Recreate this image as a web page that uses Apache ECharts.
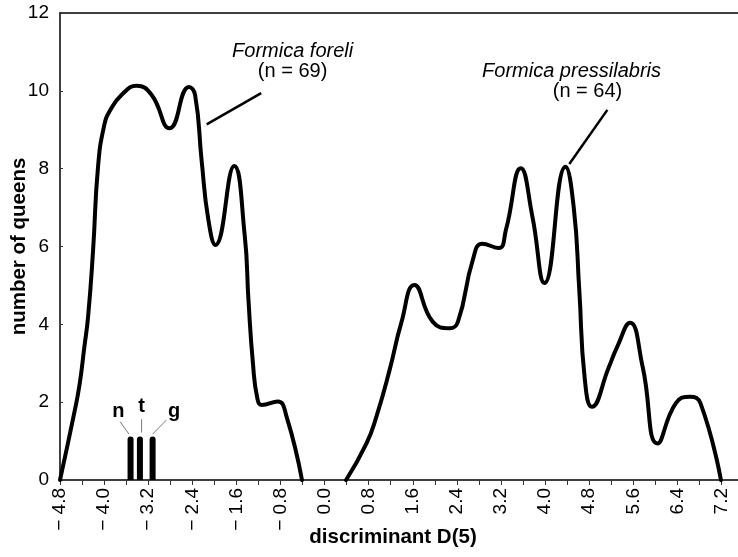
<!DOCTYPE html>
<html>
<head>
<meta charset="utf-8">
<script src="https://cdn.jsdelivr.net/npm/echarts@6/dist/echarts.min.js"></script>
<style>
html,body{margin:0;padding:0;background:#fff;}
#c{width:738px;height:557px;}
</style>
</head>
<body>
<div id="c"></div>
<script>
// F. foreli distribution (discriminant value, number of queens)
var foreliCurve = [
  [-4.8,0],[-4.53,1.8],[-4.44,2.5],[-4.36,3.4],[-4.29,4.2],[-4.2,5.9],[-4.11,8.05],[-4.0,9.1],
  [-3.89,9.5],[-3.68,9.9],[-3.41,10.13],[-3.14,9.9],[-2.81,9.04],[-2.46,10.1],[-2.35,9.9],
  [-2.23,8.2],[-2.11,6.7],[-1.98,6.04],[-1.64,8.07],[-1.45,6.3],[-1.38,4.6],[-1.3,3.0],[-1.22,2.1],[-1.14,1.93],
  [-0.85,2.02],[-0.69,1.63],[-0.41,0]
];
// F. pressilabris distribution
var pressilabrisCurve = [
  [0.39,0],[0.76,0.94],[0.94,1.63],[1.18,2.83],[1.39,4.03],[1.63,5.01],[1.96,4.07],[2.27,3.9],
  [2.42,4.07],[2.69,5.66],[2.86,6.07],[3.16,5.96],[3.29,6.43],[3.56,8.01],[3.77,6.77],[3.99,5.06],
  [4.37,8.05],[4.52,7.0],[4.62,4.9],[4.72,2.6],[4.85,1.88],[5.16,2.91],[5.31,3.43],[5.54,4.04],[5.77,2.91],
  [6.04,0.94],[6.37,1.97],[6.63,2.14],[6.82,1.97],[7.19,0]
];
// hybrid / type specimens n, t, g
var specimenNames = ['n','t','g'];
var specimenX = [-3.52,-3.35,-3.12];
var specimenY = [1.12,1.12,1.12];
// annotation anchors (data coords)
var specimenLabelPos = [[-3.74,1.76],[-3.32,1.88],[-2.73,1.76]];
var specimenLeaders = [[[-3.71,1.50],[-3.55,1.18]],[[-3.32,1.56],[-3.32,1.22]],[[-2.87,1.54],[-3.12,1.18]]];
var speciesLabels = [
  {name:'Formica foreli', n:'(n = 69)', namePos:[-0.58,11.0], nPos:[-0.58,10.49], leader:[[-2.14,9.14],[-1.15,9.94]]},
  {name:'Formica pressilabris', n:'(n = 64)', namePos:[4.48,10.49], nPos:[4.77,9.99], leader:[[4.44,8.12],[5.13,9.51]]}
];
var xMin = -4.8, xMax = 7.5, xStep = 0.4, xLabelMax = 7.2;
var yMin = 0, yMax = 12, yStep = 2;

var FONT = 'Liberation Sans, Arial, Helvetica, sans-serif';
var chart = echarts.init(document.getElementById('c'), null, {renderer:'canvas'});

function fmtX(v){
  var k = Math.round((v - xMin)/xStep);
  if (k % 2 !== 0 || v > xLabelMax + 1e-6) return '';
  var a = Math.abs(v) < 1e-9 ? 0 : v;
  return a < 0 ? '\u2212 ' + (-a).toFixed(1) : a.toFixed(1);
}

chart.setOption({
  animation:false,
  backgroundColor:'#fff',
  grid:{left:60, right:0, top:13, bottom:77, containLabel:false, outerBoundsMode:'none'},
  xAxis:[{
    type:'value', min:xMin, max:xMax, interval:xStep,
    name:'discriminant D(5)', nameLocation:'middle', nameGap:47, nameMoveOverlap:false,
    nameTextStyle:{fontFamily:FONT, fontSize:20.5, fontWeight:'bold', color:'#000', padding:[0,12,0,0]},
    axisLine:{onZero:false, lineStyle:{color:'#000', width:1.5}},
    axisTick:{show:true, length:5, lineStyle:{color:'#333', width:1}},
    axisLabel:{rotate:90, margin:8, fontFamily:FONT, fontSize:19, color:'#000', formatter:fmtX, showMaxLabel:true, showMinLabel:true, hideOverlap:false},
    splitLine:{show:false}
  },{
    type:'value', position:'top', min:xMin, max:xMax,
    axisLine:{show:true, onZero:false, lineStyle:{color:'#000', width:1.5}},
    axisTick:{show:false}, axisLabel:{show:false}, splitLine:{show:false}
  }],
  yAxis:{
    type:'value', min:yMin, max:yMax, interval:yStep,
    name:'number of queens', nameLocation:'middle', nameGap:30, nameRotate:90, nameMoveOverlap:false,
    nameTextStyle:{fontFamily:FONT, fontSize:20.5, fontWeight:'bold', color:'#000'},
    axisLine:{show:true, onZero:false, lineStyle:{color:'#000', width:1.5}},
    axisTick:{show:true, inside:true, length:3, lineStyle:{color:'#333'}},
    axisLabel:{margin:11, fontFamily:FONT, fontSize:19, color:'#000'},
    splitLine:{show:false}
  },
  series:[
    {type:'line', data:foreliCurve, smooth:0.5, showSymbol:false, lineStyle:{color:'#000', width:4, join:'round', cap:'round'}},
    {type:'line', data:pressilabrisCurve, smooth:0.5, showSymbol:false, lineStyle:{color:'#000', width:4, join:'round', cap:'round'}},
    {type:'bar', data:specimenX.map(function(x,i){return [x, specimenY[i]];}), barWidth:6,
     itemStyle:{color:'#000', borderRadius:[3,3,0,0]}}
  ]
});

function px(p){ return chart.convertToPixel({gridIndex:0}, p); }
var g = [];
speciesLabels.forEach(function(s){
  var a = px(s.namePos), b = px(s.nPos), l0 = px(s.leader[0]), l1 = px(s.leader[1]);
  g.push({type:'text', x:a[0], y:a[1], style:{text:s.name, font:'italic 20px ' + FONT, fill:'#000', textAlign:'center', textVerticalAlign:'middle'}});
  g.push({type:'text', x:b[0], y:b[1], style:{text:s.n, font:'20px ' + FONT, fill:'#000', textAlign:'center', textVerticalAlign:'middle'}});
  g.push({type:'line', shape:{x1:l0[0], y1:l0[1], x2:l1[0], y2:l1[1]}, style:{stroke:'#000', lineWidth:2.5}});
});
specimenNames.forEach(function(nm, i){
  var p = px(specimenLabelPos[i]), a = px(specimenLeaders[i][0]), b = px(specimenLeaders[i][1]);
  g.push({type:'text', x:p[0], y:p[1], style:{text:nm, font:'bold 20px ' + FONT, fill:'#000', textAlign:'center', textVerticalAlign:'middle'}});
  g.push({type:'line', shape:{x1:a[0], y1:a[1], x2:b[0], y2:b[1]}, style:{stroke:'#555', lineWidth:0.8}});
});
chart.setOption({graphic:g});
</script>
</body>
</html>
